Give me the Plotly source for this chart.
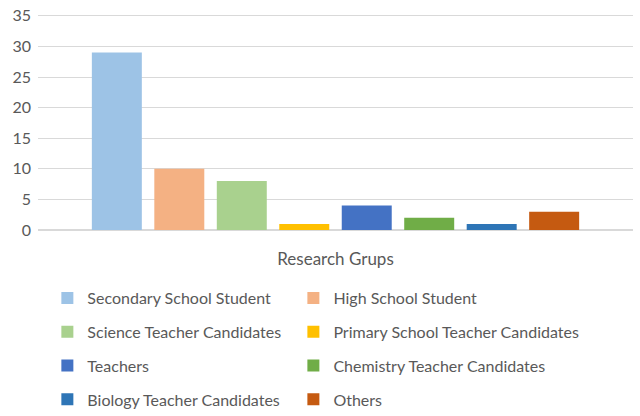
import plotly.graph_objects as go

# --- Datos ---
grupos = ["Secondary School Student", "High School Student", "Science Teacher Candidates",
          "Primary School Teacher Candidates", "Teachers", "Chemistry Teacher Candidates",
          "Biology Teacher Candidates", "Others"]
valores = [29, 10, 8, 1, 4, 2, 1, 3]
colores = ["#9DC3E6", "#F4B183", "#A9D18E", "#FFC000", "#4472C4", "#70AD47", "#2E75B6", "#C55A11"]
categoria = [""]

fuente = "Lato"
gris = "#595959"

fig = go.Figure()
for i, (nombre, valor, color) in enumerate(zip(grupos, valores, colores)):
    fig.add_trace(go.Bar(
        x=categoria,
        y=[valor],
        name=nombre,
        marker=dict(color=color, line=dict(width=0)),
        legend="legend" if i % 2 == 0 else "legend2",
        legendgroup=nombre,
    ))

leyenda = dict(
    orientation="v",
    xref="container", yref="container",
    xanchor="left", yanchor="top",
    bgcolor="rgba(0,0,0,0)",
    font=dict(family=fuente, size=16, color=gris),
    tracegroupgap=10,
    itemwidth=30,
    traceorder="grouped",
)

fig.update_layout(
    width=640, height=416,
    paper_bgcolor="white", plot_bgcolor="white",
    margin=dict(l=38, r=7, t=14, b=186, autoexpand=False),
    barmode="group",
    bargap=0.16,
    bargroupgap=0.2,
    font=dict(family=fuente, color=gris),
    legend=dict(leyenda, x=0.074, y=0.3245),
    legend2=dict(leyenda, x=0.4584, y=0.3245),
    xaxis=dict(
        showticklabels=False, showgrid=False, zeroline=False, showline=False,
        title=dict(text="Research Grups", font=dict(family=fuente, size=17, color=gris), standoff=23),
    ),
    yaxis=dict(
        # un poco más de 35 para que se dibuje la línea de rejilla superior
        range=[0, 35.3], dtick=5, showgrid=True, gridcolor="#D9D9D9", gridwidth=1,
        zeroline=True, zerolinecolor="#D9D9D9", zerolinewidth=1.5,
        tickfont=dict(family=fuente, size=16, color=gris), ticks="", ticklabelstandoff=6,
    ),
)

# quitar el margen por defecto del body para que la figura empiece en (0, 0)
fig.write_html("out.html", config={"displayModeBar": False},
               post_script="document.body.style.margin='0px';")
